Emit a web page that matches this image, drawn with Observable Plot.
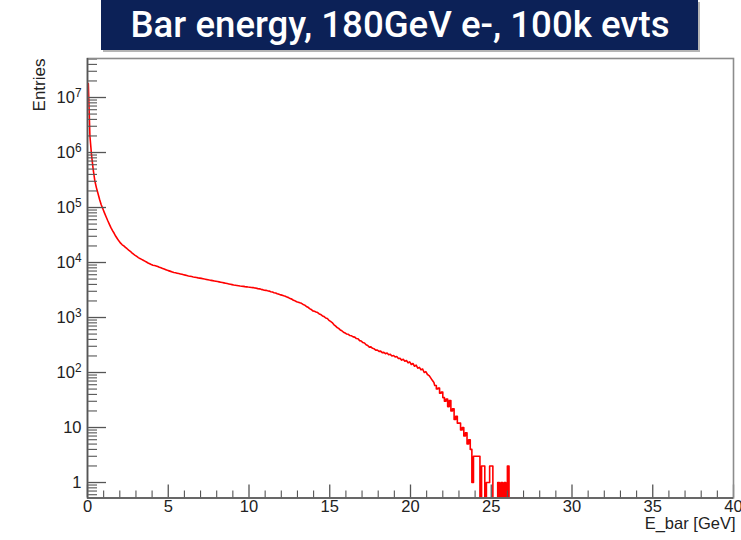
<!DOCTYPE html>
<html>
<head>
<meta charset="utf-8">
<script src="https://cdn.jsdelivr.net/npm/d3@7"></script>
<script src="https://cdn.jsdelivr.net/npm/@observablehq/plot@0.6"></script>
<style>
  html, body { margin: 0; padding: 0; background: #fff; }
  #wrap { position: relative; width: 741px; height: 540px; }
  #title {
    position: absolute; left: 101px; top: 0; width: 597px; height: 50px;
    background: #0c2157; box-shadow: 2px 2px 0 #b5b5b5;
    color: #fff; font-family: Roboto, "Open Sans", sans-serif; font-weight: 500;
    font-size: 36px; line-height: 50px; text-align: center; white-space: nowrap; overflow: hidden;
  }
  #title span { display: inline-block; transform-origin: center; }
  #chart { position: absolute; left: 0; top: 0; }
</style>
</head>
<body>
<div id="wrap">
  <div id="chart"></div>
  <div id="title"><span id="titleText">Bar energy, 180GeV e-, 100k evts</span></div>
</div>
<script>
// Histogram of deposited bar energy, 0.1 GeV bins starting at 0 GeV
const binWidth = 0.1;
const entries = [
  // 0 - 1 GeV
  1.8e7, 2.0e6, 9.0e5, 5.0e5, 3.1e5, 2.3e5, 1.8e5, 1.4e5, 1.12e5, 9.5e4,
  // 1 - 2 GeV
  8.0e4, 6.8e4, 5.8e4, 5.0e4, 4.3e4, 3.8e4, 3.4e4, 3.0e4, 2.7e4, 2.45e4,
  // 2 - 3 GeV
  2.25e4, 2.1e4, 2.0e4, 1.88e4, 1.78e4, 1.68e4, 1.6e4, 1.5e4, 1.42e4, 1.35e4,
  // 3 - 4 GeV
  1.29e4, 1.23e4, 1.18e4, 1.14e4, 1.1e4, 1.06e4, 1.02e4, 9800, 9500, 9200,
  // 4 - 5 GeV
  8950, 8800, 8650, 8450, 8200, 8000, 7800, 7600, 7400, 7200,
  // 5 - 6 GeV
  7050, 6900, 6750, 6600, 6500, 6400, 6300, 6200, 6100, 6000,
  // 6 - 7 GeV
  5900, 5800, 5700, 5620, 5550, 5470, 5400, 5330, 5250, 5200,
  // 7 - 8 GeV
  5150, 5080, 5000, 4930, 4870, 4800, 4740, 4680, 4620, 4560,
  // 8 - 9 GeV
  4500, 4440, 4380, 4320, 4260, 4200, 4140, 4080, 4020, 3960,
  // 9 - 10 GeV
  3900, 3860, 3820, 3780, 3740, 3710, 3680, 3640, 3610, 3580,
  // 10 - 11 GeV
  3560, 3520, 3500, 3440, 3420, 3350, 3320, 3250, 3210, 3140,
  // 11 - 12 GeV
  3120, 3060, 3020, 2940, 2900, 2820, 2780, 2700, 2660, 2580,
  // 12 - 13 GeV
  2550, 2490, 2440, 2350, 2300, 2210, 2160, 2060, 2010, 1930,
  // 13 - 14 GeV
  1900, 1850, 1810, 1730, 1680, 1590, 1540, 1450, 1400, 1320,
  // 14 - 15 GeV
  1300, 1260, 1230, 1160, 1130, 1070, 1040, 980, 960, 890,
  // 15 - 16 GeV
  850, 810, 745, 705, 660, 635, 595, 575, 540, 525,
  // 16 - 17 GeV
  500, 495, 470, 465, 445, 440, 415, 410, 380, 375,
  // 17 - 18 GeV
  350, 345, 320, 310, 290, 292, 275, 270, 255, 255,
  // 18 - 19 GeV
  242, 245, 230, 232, 220, 226, 210, 214, 200, 204,
  // 19 - 20 GeV
  192, 195, 180, 182, 168, 174, 160, 165, 150, 156,
  // 20 - 21 GeV
  140, 146, 130, 136, 120, 124, 112, 116, 100, 104,
  // 21 - 22 GeV
  92, 88, 80, 72, 66, 58, 50, 52, 42, 44,
  // 22 - 23 GeV
  35, 30, 33, 24, 31, 20, 22, 14, 16, 12,
  // 23 - 24 GeV
  12, 9, 10, 7, 8, 5, 6, 4, 1, 3,
  // 24 - 25 GeV
  3, 3, 3, 0, 2, 2, 0, 1, 1, 2,
  // 25 - 26 GeV
  2, 0, 0, 0, 1, 0, 1, 0, 1, 0,
  // 26 - 27 GeV
  2, 0, 0, 0, 0, 0, 0, 0, 0, 0
];

// Bins above this energy are drawn as flat steps, below it through bin centres
const stepFrom = 21.5;

// Axis ticks
const xMajor = [0, 5, 10, 15, 20, 25, 30, 35, 40];
const xMinorStep = 1;
const yMajor = [1, 10, 1e2, 1e3, 1e4, 1e5, 1e6, 1e7];
const yDecades = [0.1, 1, 10, 1e2, 1e3, 1e4, 1e5, 1e6, 1e7];
const yMinorFactors = [2, 3, 4, 5, 6, 7, 8, 9];

// Axis ranges
const xDomain = [0, 40];
const yDomain = [0.523, 5.12e7];

// Layout
const W = 741, H = 540;
const mL = 87, mR = 8, mT = 58, mB = 42.5;
const innerW = W - mL - mR, innerH = H - mT - mB;

// Outline vertices: bin centres in the smooth part, both bin edges in the sparse tail
const outline = entries.flatMap((n, i) => {
  const lo = i * binWidth, hi = lo + binWidth;
  return lo < stepFrom ? [{x: lo + binWidth / 2, n}] : [{x: lo, n}, {x: hi, n}];
});

const xMinor = d3.range(xDomain[0], xDomain[1] + 1e-9, xMinorStep).filter(v => !xMajor.includes(v));
const yMinor = yDecades.flatMap(d => yMinorFactors.map(k => d * k))
  .filter(v => v >= yDomain[0] && v <= yDomain[1]);

const axisColor = "#555";
const font = "'Liberation Sans', Arial, Helvetica, sans-serif";

const chart = Plot.plot({
  width: W, height: H,
  marginLeft: mL, marginRight: mR, marginTop: mT, marginBottom: mB,
  style: {fontFamily: font, background: "transparent", color: "#222", overflow: "visible"},
  x: {domain: xDomain},
  y: {type: "log", domain: yDomain},
  marks: [
    // histogram outline; empty bins drop to the bottom of the frame
    Plot.line(outline, {
      x: "x", y: d => Math.max(d.n, yDomain[0]),
      stroke: "#ff0000", strokeWidth: 1.6, clip: true
    }),
    // inward tick marks
    Plot.tickY(yMinor, {y: d => d, insetRight: innerW - 10, stroke: axisColor, strokeWidth: 1.1}),
    Plot.tickY(yMajor, {y: d => d, insetRight: innerW - 19, stroke: axisColor, strokeWidth: 1.3}),
    Plot.tickX(xMinor, {x: d => d, insetTop: innerH - 7, stroke: axisColor, strokeWidth: 1.1}),
    Plot.tickX(xMajor, {x: d => d, insetTop: innerH - 13, stroke: axisColor, strokeWidth: 1.3}),
    // frame
    Plot.frame({stroke: "#8c8c8c", strokeWidth: 1.6}),
    Plot.ruleX([xDomain[0]], {stroke: axisColor, strokeWidth: 1.6}),
    Plot.ruleY([yDomain[0]], {stroke: axisColor, strokeWidth: 1.6}),
    // tick labels
    Plot.axisY({
      ticks: yMajor, tickSize: 0, tickPadding: 6, fontSize: 16.5, label: null,
      tickFormat: d => d >= 100 ? "10^" + Math.round(Math.log10(d)) : String(d)
    }),
    Plot.axisX({
      ticks: xMajor, tickSize: 0, tickPadding: 2, fontSize: 16.5, label: null,
      tickFormat: d => String(d)
    }),
    // axis titles
    Plot.text(["E_bar [GeV]"], {
      frameAnchor: "bottom-right", text: d => d, dx: 2, dy: 31,
      textAnchor: "end", fontSize: 16.5, fill: "#222"
    }),
    Plot.text(["Entries"], {
      frameAnchor: "top-left", text: d => d, rotate: -90, dx: -55,
      textAnchor: "end", fontSize: 17, fill: "#222"
    })
  ]
});

// power-of-ten labels with raised exponents
d3.select(chart).selectAll('g[aria-label="y-axis tick label"] text').each(function () {
  const m = /^10\^(\d+)$/.exec(this.textContent);
  if (!m) return;
  const sel = d3.select(this);
  sel.text(null);
  sel.append("tspan").text("10");
  sel.append("tspan").attr("dy", "-0.5em").attr("font-size", "0.72em").text(m[1]);
});

document.getElementById("chart").appendChild(chart);

// fit the title to its banner width
const span = document.getElementById("titleText");
const w = span.getBoundingClientRect().width;
span.style.transform = `scaleX(${539 / w})`;
</script>
</body>
</html>
